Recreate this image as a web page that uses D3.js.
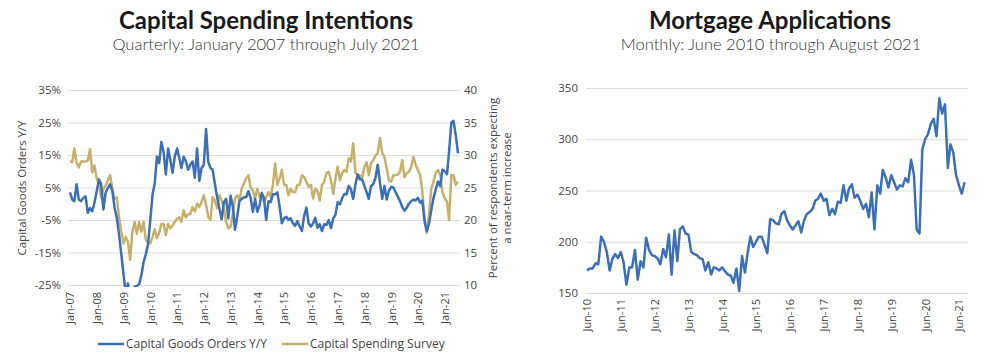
<!DOCTYPE html>
<html>
<head>
<meta charset="utf-8">
<script src="https://cdn.jsdelivr.net/npm/d3@7"></script>
<style>
  html, body { margin: 0; padding: 0; background: #fff; }
  svg { display: block; }
  .tick text { font-family: "Open Sans", sans-serif; fill: #444; }
</style>
</head>
<body>
<svg id="chart" width="1000" height="358"></svg>
<script>
// ---------- DATA ----------
// Left panel: monthly, Jan-2007 .. Jul-2021
const leftStart = "2007-01";
const capGoodsOrders = [
  3.5, 1.3, 0.8, 6, 1.3, 0.8, 1.8, 2.3, -2.8, -1.3, -2.3, 0.3,
  3.9, 7.5, 6, -1.8, 3.4, 4.9, 6, 3.9, -1.3, -4.3, -9.5, -15.6,
  -21.8, -28, -24.5, -29, -30, -25.5, -25.3, -24.8, -22, -18, -15.5, -12.5,
  -5, 3, 6, 14.5, 12.5, 19, 16, 9, 17, 13.5, 9.5, 14.5,
  17, 14, 11, 14.5, 13, 10.5, 12, 13, 8, 17, 7, 11,
  12, 23, 13, 11, 10.5, 6, 2, -1.5, -4.8, 0.5, 1.5, -4.5,
  2.5, -1, -8, -4, 0.8, 1.5, 2, 2, 3.9, 1.8, -2.5, 1.5,
  -2.5, -0.5, 3.4, 1.8, -5, 0.8, 0.5, 2.9, 2.9, 3.5, -1, -6,
  -4.5, -4, -5, -4.5, -6, -6.8, -5.3, -7, -8.4, -3.8, -1.2, -6,
  -7, -6, -4.3, -7.4, -6.3, -8.4, -6.3, -6.5, -5, -7.5, -4.5, -3.5,
  0.5, -0.2, 1.6, 3, 2.9, 5.5, 4.5, 1.5, 6, 9, 7.5, 7.5,
  5.4, 3.5, 1.5, 5.4, 6, 8, 12, 6.5, 1.5, 5.5, 1.3, 4,
  5.2, 5, 3.6, 2.2, 0.8, -1, -2.1, -1.2, 0, 0.8, 1.3, 1,
  1.8, 0.3, 1, -5.5, -8.4, -6, -2, 1.8, 4.5, 6.8, 5.4, 10.5,
  10, 9.1, 16, 25, 25.5, 21, 15.5
];
const capSpendingSurvey = [
  29, 28.9, 31, 28.8, 28.1, 29, 29, 29, 29.1, 30.9, 27.3, 28.4,
  26.4, 25.5, 23.4, 24.8, 25.3, 26.1, 26.9, 24.8, 23.3, 23.5, 20.3, 18.2,
  16.4, 17.4, 16.7, 13.9, 18.2, 19.7, 17.9, 19.7, 18.2, 19.7, 16.9, 16.5,
  16.4, 17.4, 18.6, 17.2, 18, 19.4, 19.4, 17.7, 19.4, 18.7, 19.2, 19.7,
  20.2, 20.4, 19.7, 21.5, 20.4, 20.9, 20.9, 22, 21.3, 22.5, 22, 22.8,
  23.8, 22.3, 20.5, 20, 23.5, 23, 21.8, 23.8, 23, 21.8, 19.7, 18.7,
  19, 21, 23.3, 23.8, 23, 24.8, 25.6, 26.4, 26.9, 25, 24.5, 23.3,
  24.8, 23.5, 23.8, 22.8, 23.5, 24.3, 23.5, 25.4, 28.7, 25.4, 26.4, 27.7,
  25.4, 25.4, 23.8, 24.8, 24.3, 24.3, 25.4, 25.4, 26.9, 26.6, 25.9, 25.1,
  25.4, 23.3, 24.8, 24.5, 23, 25.4, 25.9, 27.2, 27.4, 26.1, 24, 26.4,
  28.2, 26.1, 27.2, 27.7, 27.4, 29.5, 29, 31.8, 27.2, 27, 26.8, 26.5,
  28.2, 28.9, 26.9, 28.7, 29.2, 29.9, 30.3, 32.6, 30.3, 29.7, 27.9, 26.1,
  25.9, 26.9, 26.9, 27, 27.4, 29.2, 26.6, 27.2, 27.4, 28.2, 29.7, 28.5,
  27.7, 26.9, 24.3, 20.3, 18, 20.8, 24.8, 25.9, 27.3, 27.7, 26.9, 24.3,
  23.3, 22.8, 20, 26.9, 26.9, 25.4, 25.9
];
const leftXTicks = ["Jan-07","Jan-08","Jan-09","Jan-10","Jan-11","Jan-12","Jan-13","Jan-14",
                    "Jan-15","Jan-16","Jan-17","Jan-18","Jan-19","Jan-20","Jan-21"];
const leftYTicks = [-25, -15, -5, 5, 15, 25, 35];
const rightYTicks = [10, 15, 20, 25, 30, 35, 40];

// Right panel: monthly, Jun-2010 .. Aug-2021
const mortStart = "2010-06";
const mortgageApps = [
  172, 174, 174, 179, 178, 205, 200, 190, 172, 183, 188, 184,
  190, 180, 158, 175, 175, 192, 163, 181, 175, 204, 192, 187,
  186, 184, 178, 193, 185, 207, 168, 211, 181, 212, 215, 208,
  207, 190, 188, 187, 184, 183, 172, 180, 168, 175, 174, 172,
  175, 171, 168, 167, 160, 174, 152, 186, 170, 188, 205, 195,
  200, 205, 205, 197, 189, 222, 221, 218, 217, 227, 230, 221,
  216, 212, 216, 220, 209, 221, 227, 229, 232, 240, 242, 247,
  240, 242, 226, 232, 227, 239, 238, 255, 240, 252, 256, 243,
  246, 240, 232, 237, 224, 248, 212, 255, 247, 270, 263, 253,
  265, 258, 251, 255, 254, 262, 258, 280, 265, 212, 208, 290,
  300, 305, 315, 320, 303, 340, 325, 334, 272, 295, 287, 265,
  255, 247, 258
];
const mortXTicks = ["Jun-10","Jun-11","Jun-12","Jun-13","Jun-14","Jun-15","Jun-16",
                    "Jun-17","Jun-18","Jun-19","Jun-20","Jun-21"];
const mortYTicks = [150, 200, 250, 300, 350];

const legendLabels = ["Capital Goods Orders Y/Y", "Capital Spending Survey"];

// ---------- HELPERS ----------
const BLUE = "#3c6fb6";
const GOLD = "#c5b06c";
const GRID = "#dcdcdc";
const parseYM = d3.timeParse("%Y-%m");
const parseTick = d3.timeParse("%b-%y");
const fmtTick = d3.timeFormat("%b-%y");
function monthSeq(start, n) {
  const s = parseYM(start);
  return d3.range(n).map(i => d3.timeMonth.offset(s, i));
}

const svg = d3.select("#chart");

// ---------- LEFT PANEL ----------
{
  const dates = monthSeq(leftStart, capGoodsOrders.length);
  const x = d3.scaleTime().domain([dates[0], dates[dates.length - 1]]).range([70, 458]);
  const yL = d3.scaleLinear().domain([-25, 35]).range([285, 90]);
  const yR = d3.scaleLinear().domain([10, 40]).range([285, 90]);
  const gx0 = 68, gx1 = 460;

  const gy = svg.append("g").attr("transform", `translate(${gx0},0)`)
    .call(d3.axisLeft(yL).tickValues(leftYTicks).tickFormat(d => d + "%")
      .tickSize(-(gx1 - gx0)).tickPadding(7));
  gy.select(".domain").remove();
  gy.selectAll(".tick line").attr("stroke", GRID);
  gy.selectAll(".tick text").style("font-size", "11.5px");

  const gr = svg.append("g").attr("transform", `translate(${gx1},0)`)
    .call(d3.axisRight(yR).tickValues(rightYTicks).tickSize(0).tickPadding(4));
  gr.select(".domain").remove();
  gr.selectAll(".tick text").style("font-size", "11.5px");

  const gxa = svg.append("g").attr("transform", "translate(0,285)")
    .call(d3.axisBottom(x).tickValues(leftXTicks.map(parseTick)).tickFormat(fmtTick).tickSize(0));
  gxa.select(".domain").remove();
  gxa.selectAll(".tick text")
    .attr("x", -7).attr("y", 0).attr("dy", "0.35em")
    .attr("transform", "rotate(-90)")
    .style("text-anchor", "end").style("font-size", "11px");

  svg.append("clipPath").attr("id", "clipL").append("rect")
    .attr("x", gx0).attr("y", 80).attr("width", gx1 - gx0 + 2).attr("height", 207);

  const lineL = d3.line().x((d, i) => x(dates[i])).y(d => yL(d));
  const lineR = d3.line().x((d, i) => x(dates[i])).y(d => yR(d));

  svg.append("path").datum(capSpendingSurvey).attr("d", lineR)
    .attr("fill", "none").attr("stroke", GOLD).attr("stroke-width", 2.5)
    .attr("stroke-linejoin", "round").attr("clip-path", "url(#clipL)");
  svg.append("path").datum(capGoodsOrders).attr("d", lineL)
    .attr("fill", "none").attr("stroke", BLUE).attr("stroke-width", 2.5)
    .attr("stroke-linejoin", "round").attr("clip-path", "url(#clipL)");

  // axis titles
  svg.append("text").attr("transform", "translate(26,188) rotate(-90)")
    .attr("text-anchor", "middle").style("font-family", "Open Sans").style("font-size", "11.5px")
    .attr("fill", "#444").text("Capital Goods Orders Y/Y");
  const rt = svg.append("text").attr("transform", "translate(497,188) rotate(-90)")
    .attr("text-anchor", "middle").style("font-family", "Open Sans").style("font-size", "11.5px")
    .attr("fill", "#444");
  rt.append("tspan").attr("x", 0).attr("dy", 0).text("Percent of respondents expecting");
  rt.append("tspan").attr("x", 0).attr("dy", 14).text("a near-term increase");

  // titles
  svg.append("text").attr("x", 266).attr("y", 29).attr("text-anchor", "middle")
    .style("font-family", "Lato").style("font-weight", 700).style("font-size", "24px")
    .attr("fill", "#1a1a1a").text("Capital Spending Intentions");
  svg.append("text").attr("x", 266).attr("y", 50).attr("text-anchor", "middle")
    .style("font-family", "Lato").style("font-weight", 300).style("font-size", "16.5px")
    .attr("fill", "#333").text("Quarterly: January 2007 through July 2021");

  // legend
  const leg = [[98, BLUE, legendLabels[0]], [282, GOLD, legendLabels[1]]];
  leg.forEach(([lx, c, t]) => {
    svg.append("line").attr("x1", lx).attr("x2", lx + 26).attr("y1", 344).attr("y2", 344)
      .attr("stroke", c).attr("stroke-width", 2.5);
    svg.append("text").attr("x", lx + 28).attr("y", 348).style("font-family", "Open Sans")
      .style("font-size", "12px").attr("fill", "#444").text(t);
  });
}

// ---------- RIGHT PANEL ----------
{
  const dates = monthSeq(mortStart, mortgageApps.length);
  const x = d3.scaleTime().domain([dates[0], dates[dates.length - 1]]).range([587, 964.6]);
  const y = d3.scaleLinear().domain([150, 350]).range([293, 88]);
  const gx0 = 586, gx1 = 968;

  const gy = svg.append("g").attr("transform", `translate(${gx0},0)`)
    .call(d3.axisLeft(y).tickValues(mortYTicks).tickSize(-(gx1 - gx0)).tickPadding(8));
  gy.select(".domain").remove();
  gy.selectAll(".tick line").attr("stroke", GRID);
  gy.selectAll(".tick text").style("font-size", "11.5px");

  const gxa = svg.append("g").attr("transform", "translate(0,293)")
    .call(d3.axisBottom(x).tickValues(mortXTicks.map(parseTick)).tickFormat(fmtTick).tickSize(0));
  gxa.select(".domain").remove();
  gxa.selectAll(".tick text")
    .attr("x", -6).attr("y", 0).attr("dy", "0.35em")
    .attr("transform", "rotate(-90)")
    .style("text-anchor", "end").style("font-size", "11px");

  const line = d3.line().x((d, i) => x(dates[i])).y(d => y(d));
  svg.append("path").datum(mortgageApps).attr("d", line)
    .attr("fill", "none").attr("stroke", BLUE).attr("stroke-width", 2.5)
    .attr("stroke-linejoin", "round");

  svg.append("text").attr("x", 770).attr("y", 29).attr("text-anchor", "middle")
    .style("font-family", "Lato").style("font-weight", 700).style("font-size", "24px")
    .attr("fill", "#1a1a1a").text("Mortgage Applications");
  svg.append("text").attr("x", 771).attr("y", 50).attr("text-anchor", "middle")
    .style("font-family", "Lato").style("font-weight", 300).style("font-size", "16.5px")
    .attr("fill", "#333").text("Monthly: June 2010 through August 2021");
}
</script>
</body>
</html>
